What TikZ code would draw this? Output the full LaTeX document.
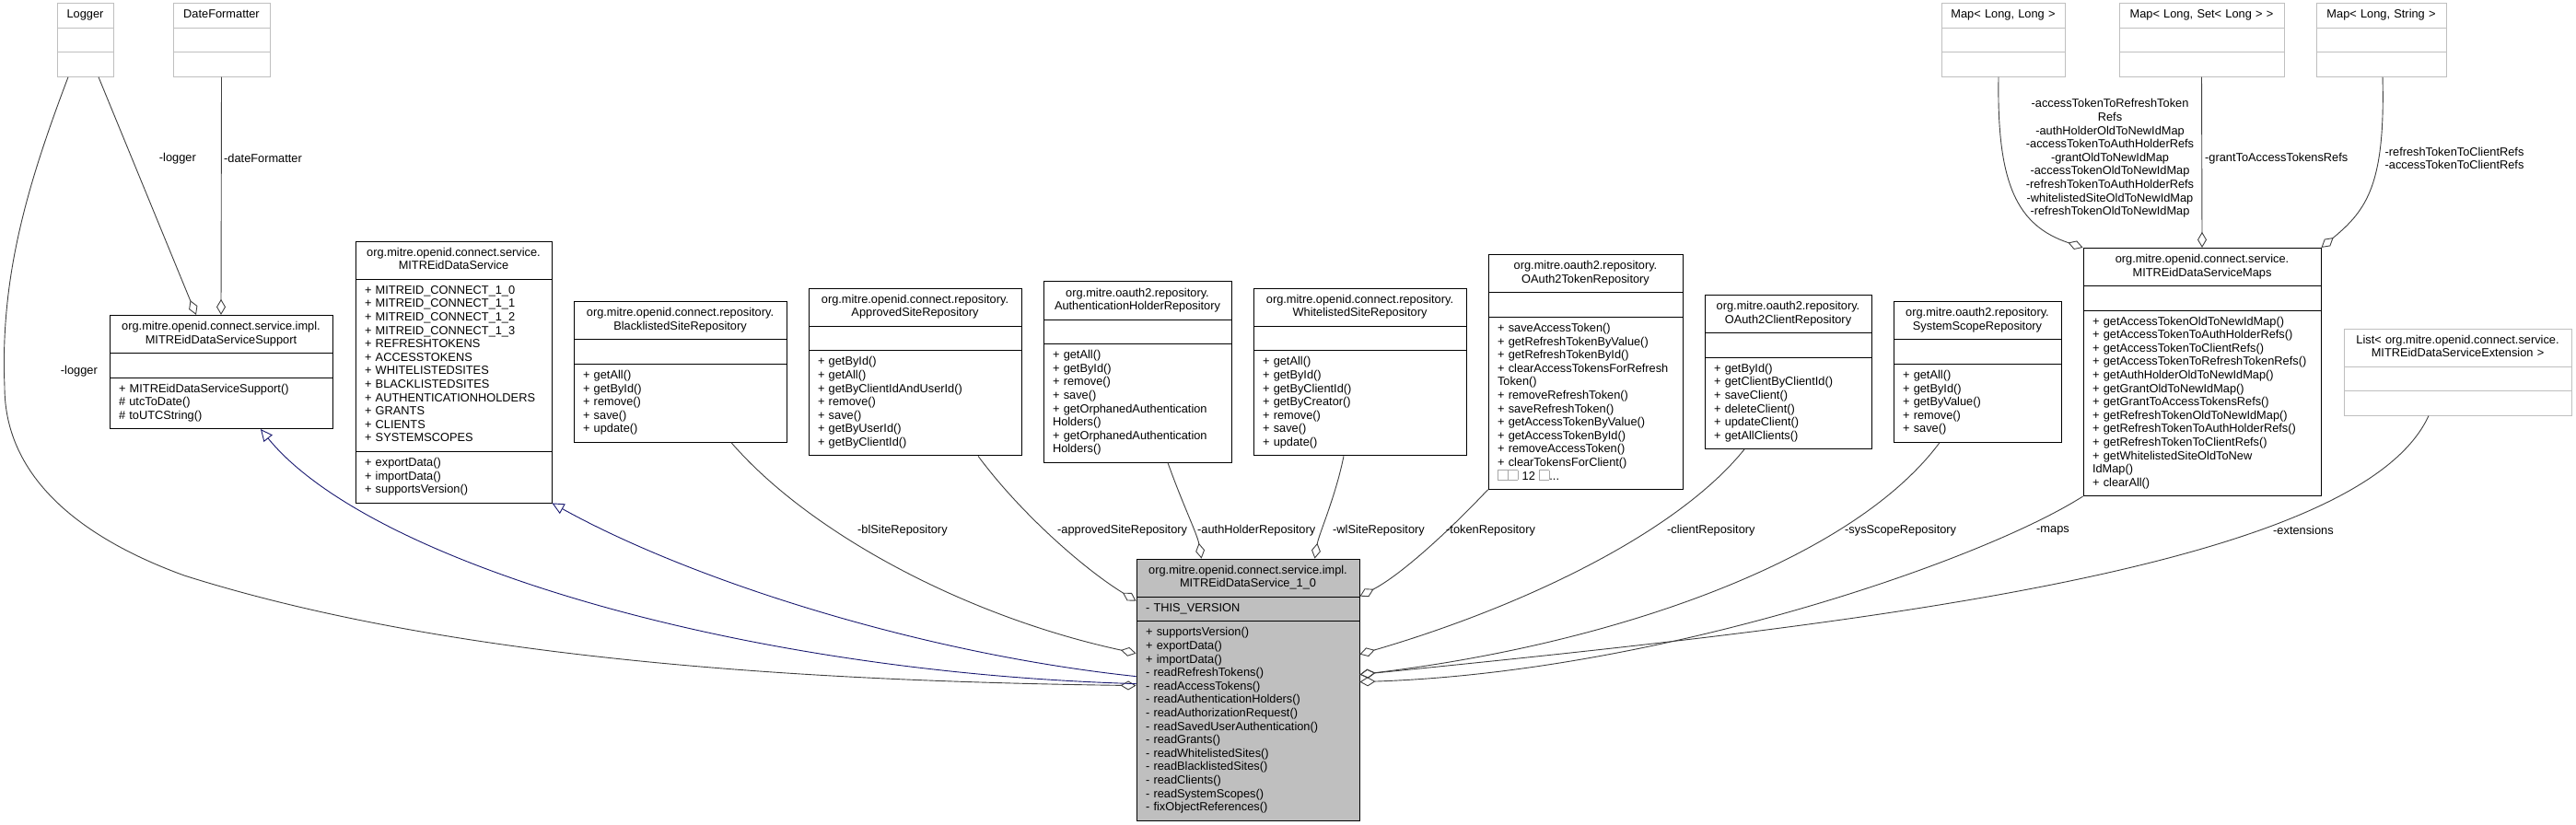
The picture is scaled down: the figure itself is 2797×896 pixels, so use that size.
\documentclass[tikz,border=0pt]{standalone}
\usepackage{fontspec}
\setmainfont{Liberation Sans}
\usepackage{xcolor}
\usetikzlibrary{shapes.multipart, arrows.meta}
\definecolor{edgegray}{HTML}{404040}
\definecolor{inhblue}{HTML}{191970}
\definecolor{extgray}{HTML}{BFBFBF}
\newcommand{\umlfont}{\fontsize{12.8}{14.6}\selectfont}
\newcommand{\ttl}[1]{\centering\strut#1\strut\par}
\newcommand{\mbr}[1]{\leftskip=5pt\strut#1\strut\par}
\newcommand{\tofubox}{{\color{black!35}\fboxsep=0pt\fboxrule=0.6pt\fbox{\rule{0pt}{10pt}\hspace{10pt}}}}

\begin{document}
\begin{tikzpicture}[x=1pt, y=-1pt,
  classbox/.style={rectangle split, rectangle split parts=3, draw=black, fill=white, line width=0.9pt, font=\umlfont, inner xsep=5pt, inner ysep=5.5pt, text width=#1-10pt, align=left},
  extbox/.style={classbox=#1, draw=extgray},
  aggr/.style={draw=edgegray, line width=0.9pt, -{Diamond[open, length=17pt, width=10pt]}},
  inh/.style={draw=inhblue, line width=0.9pt, -{Triangle[open, length=13pt, width=12pt]}},
  lbl/.style={font=\umlfont, inner sep=0pt}]
\useasboundingbox (0, 0) rectangle (2797, 896);
\node [extbox=61pt] (logger) at (92.5, 43.5) {\ttl{Logger}\nodepart{two}\mbr{}\nodepart{three}\mbr{}};
\node [extbox=105pt] (datefmt) at (240.5, 43.5) {\ttl{DateFormatter}\nodepart{two}\mbr{}\nodepart{three}\mbr{}};
\node [extbox=134pt] (mapll) at (2175, 43.5) {\ttl{Map< Long, Long >}\nodepart{two}\mbr{}\nodepart{three}\mbr{}};
\node [extbox=179pt] (mapset) at (2390.5, 43.5) {\ttl{Map< Long, Set< Long > >}\nodepart{two}\mbr{}\nodepart{three}\mbr{}};
\node [extbox=141pt] (mapstr) at (2585.5, 43.5) {\ttl{Map< Long, String >}\nodepart{two}\mbr{}\nodepart{three}\mbr{}};
\node [classbox=242pt] (support) at (240, 404) {\ttl{org.mitre.openid.connect.service.impl.\\MITREidDataServiceSupport}\nodepart{two}\mbr{}\nodepart{three}\mbr{+ MITREidDataServiceSupport()\\\# utcToDate()\\\# toUTCString()}};
\node [classbox=213pt] (service) at (492.5, 404) {\ttl{org.mitre.openid.connect.service.\\MITREidDataService}\nodepart{two}\mbr{+ MITREID\_CONNECT\_1\_0\\+ MITREID\_CONNECT\_1\_1\\+ MITREID\_CONNECT\_1\_2\\+ MITREID\_CONNECT\_1\_3\\+ REFRESHTOKENS\\+ ACCESSTOKENS\\+ WHITELISTEDSITES\\+ BLACKLISTEDSITES\\+ AUTHENTICATIONHOLDERS\\+ GRANTS\\+ CLIENTS\\+ SYSTEMSCOPES}\nodepart{three}\mbr{+ exportData()\\+ importData()\\+ supportsVersion()}};
\node [classbox=231pt] (blrepo) at (738.5, 404) {\ttl{org.mitre.openid.connect.repository.\\BlacklistedSiteRepository}\nodepart{two}\mbr{}\nodepart{three}\mbr{+ getAll()\\+ getById()\\+ remove()\\+ save()\\+ update()}};
\node [classbox=231pt] (aprepo) at (993.5, 404) {\ttl{org.mitre.openid.connect.repository.\\ApprovedSiteRepository}\nodepart{two}\mbr{}\nodepart{three}\mbr{+ getById()\\+ getAll()\\+ getByClientIdAndUserId()\\+ remove()\\+ save()\\+ getByUserId()\\+ getByClientId()}};
\node [classbox=204pt] (ahrepo) at (1235, 404) {\ttl{org.mitre.oauth2.repository.\hspace*{18pt}\\AuthenticationHolderRepository}\nodepart{two}\mbr{}\nodepart{three}\mbr{+ getAll()\\+ getById()\\+ remove()\\+ save()\\+ getOrphanedAuthentication\\Holders()\\+ getOrphanedAuthentication\\Holders()}};
\node [classbox=231pt] (wlrepo) at (1476.5, 404) {\ttl{org.mitre.openid.connect.repository.\\WhitelistedSiteRepository}\nodepart{two}\mbr{}\nodepart{three}\mbr{+ getAll()\\+ getById()\\+ getByClientId()\\+ getByCreator()\\+ remove()\\+ save()\\+ update()}};
\node [classbox=211pt] (tokrepo) at (1721.5, 404) {\ttl{org.mitre.oauth2.repository.\hspace*{28pt}\\OAuth2TokenRepository}\nodepart{two}\mbr{}\nodepart{three}\mbr{+ saveAccessToken()\\+ getRefreshTokenByValue()\\+ getRefreshTokenById()\\+ clearAccessTokensForRefresh\\Token()\\+ removeRefreshToken()\\+ saveRefreshToken()\\+ getAccessTokenByValue()\\+ getAccessTokenById()\\+ removeAccessToken()\\+ clearTokensForClient()\\\tofubox\tofubox\ 12 \tofubox...}};
\node [classbox=181pt] (clrepo) at (1941.5, 404) {\ttl{org.mitre.oauth2.repository.\\OAuth2ClientRepository}\nodepart{two}\mbr{}\nodepart{three}\mbr{+ getById()\\+ getClientByClientId()\\+ saveClient()\\+ deleteClient()\\+ updateClient()\\+ getAllClients()}};
\node [classbox=182pt] (ssrepo) at (2147, 404) {\ttl{org.mitre.oauth2.repository.\\SystemScopeRepository}\nodepart{two}\mbr{}\nodepart{three}\mbr{+ getAll()\\+ getById()\\+ getByValue()\\+ remove()\\+ save()}};
\node [classbox=258pt] (maps) at (2391, 404) {\ttl{org.mitre.openid.connect.service.\\MITREidDataServiceMaps}\nodepart{two}\mbr{}\nodepart{three}\mbr{+ getAccessTokenOldToNewIdMap()\\+ getAccessTokenToAuthHolderRefs()\\+ getAccessTokenToClientRefs()\\+ getAccessTokenToRefreshTokenRefs()\\+ getAuthHolderOldToNewIdMap()\\+ getGrantOldToNewIdMap()\\+ getGrantToAccessTokensRefs()\\+ getRefreshTokenOldToNewIdMap()\\+ getRefreshTokenToAuthHolderRefs()\\+ getRefreshTokenToClientRefs()\\+ getWhitelistedSiteOldToNew\\IdMap()\\+ clearAll()}};
\node [extbox=247pt] (extlist) at (2668.5, 404) {\ttl{List< org.mitre.openid.connect.service.\\MITREidDataServiceExtension >}\nodepart{two}\mbr{}\nodepart{three}\mbr{}};
\node [classbox=242pt, fill=extgray] (main) at (1355, 749) {\ttl{org.mitre.openid.connect.service.impl.\\MITREidDataService\_1\_0}\nodepart{two}\mbr{- THIS\_VERSION}\nodepart{three}\mbr{+ supportsVersion()\\+ exportData()\\+ importData()\\- readRefreshTokens()\\- readAccessTokens()\\- readAuthenticationHolders()\\- readAuthorizationRequest()\\- readSavedUserAuthentication()\\- readGrants()\\- readWhitelistedSites()\\- readBlacklistedSites()\\- readClients()\\- readSystemScopes()\\- fixObjectReferences()}};
\draw [aggr] ([xshift=14.5pt]logger.south) -- ([xshift=-27pt]support.north);
\draw [aggr] (datefmt.south) -- (support.north);
\draw [aggr] ([xshift=-18.5pt]logger.south) .. controls (30, 200) and (0, 300) .. (5, 420) .. controls (5, 520) and (90, 585) .. (200, 625) .. controls (500, 720) and (900, 740) .. ([yshift=-138pt]main.north west);
\draw [inh] ([yshift=-136pt]main.north west) .. controls (800, 730) and (400, 610) .. ([xshift=43pt]support.south);
\draw [inh] ([yshift=-128pt]main.north west) .. controls (1000, 710) and (750, 630) .. (service.south east);
\draw [aggr] ([xshift=55.5pt]blrepo.south) .. controls (880, 580) and (1050, 670) .. ([yshift=-103pt]main.north west);
\draw [aggr] ([xshift=68.5pt]aprepo.south) .. controls (1110, 560) and (1180, 620) .. ([yshift=-46pt]main.north west);
\draw [aggr] ([xshift=33pt]ahrepo.south) .. controls (1285, 550) and (1300, 580) .. ([xshift=71pt]main.north west);
\draw [aggr] ([xshift=-17.5pt]wlrepo.south) .. controls (1450, 540) and (1432, 580) .. ([xshift=194pt]main.north west);
\draw [aggr] (tokrepo.south west) .. controls (1570, 580) and (1520, 625) .. ([yshift=-41pt]main.north east);
\draw [aggr] ([xshift=-47.5pt]clrepo.south) .. controls (1820, 580) and (1650, 660) .. ([yshift=-104pt]main.north east);
\draw [aggr] ([xshift=-41pt]ssrepo.south) .. controls (2010, 610) and (1750, 700) .. ([yshift=-126pt]main.north east);
\draw [aggr] (maps.south west) .. controls (2150, 610) and (1800, 730) .. ([yshift=-134pt]main.north east);
\draw [aggr] ([xshift=-31.5pt]extlist.south) .. controls (2560, 620) and (2000, 680) .. ([yshift=-126pt]main.north east);
\draw [aggr] ([xshift=-5pt]mapll.south) .. controls (2168, 200) and (2190, 245) .. (maps.north west);
\draw [aggr] (mapset.south) -- (maps.north);
\draw [aggr] ([xshift=1.5pt]mapstr.south) .. controls (2590, 200) and (2570, 228) .. (maps.north east);
\node [lbl, anchor=east] (lablog) at (213, 172) {-logger};
\node [lbl, anchor=west] (labdate) at (243, 172) {-dateFormatter};
\node [lbl, anchor=east] (labmain) at (106, 403) {-logger};
\foreach \x/\t [count=\i] in {931/-blSiteRepository, 1148/-approvedSiteRepository, 1300/-authHolderRepository, 1447/-wlSiteRepository, 1570/-tokenRepository, 1810/-clientRepository, 2003/-sysScopeRepository, 2211/-maps, 2468/-extensions}
  \node [lbl, anchor=west] (lab\i) at (\x, 576) {\t};
\node [lbl, align=center] (labll) at (2291, 172) {-accessTokenToRefreshToken\\Refs\\-authHolderOldToNewIdMap\\-accessTokenToAuthHolderRefs\\-grantOldToNewIdMap\\-accessTokenOldToNewIdMap\\-refreshTokenToAuthHolderRefs\\-whitelistedSiteOldToNewIdMap\\-refreshTokenOldToNewIdMap};
\node [lbl, anchor=west] (labset) at (2394, 172) {-grantToAccessTokensRefs};
\node [lbl, align=center] (labstr) at (2665, 172) {-refreshTokenToClientRefs\\-accessTokenToClientRefs};
\end{tikzpicture}
\end{document}
